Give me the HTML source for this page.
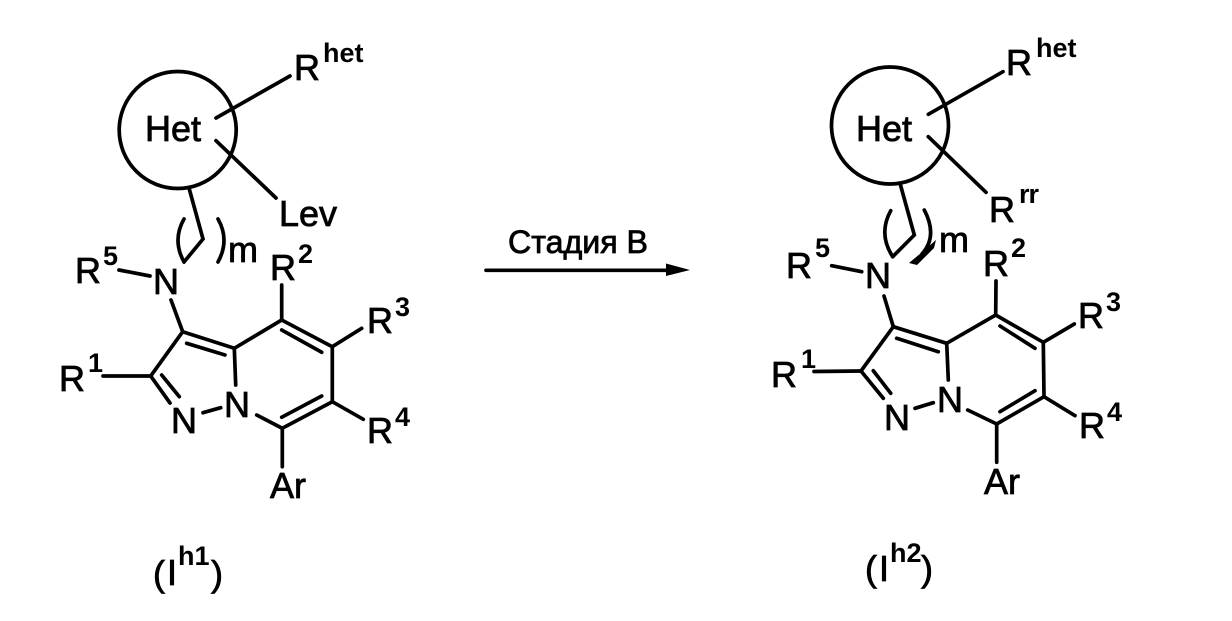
<!DOCTYPE html>
<html><head><meta charset="utf-8"><style>
html,body{margin:0;padding:0;background:#fff;width:1232px;height:621px;overflow:hidden}
svg{display:block}
text{font-family:"Liberation Sans",sans-serif;fill:#000;stroke:#000;stroke-width:.8px}
.b{font-size:36px}
.s{font-size:27px;font-weight:bold;stroke-width:0}
line,path.l,circle{stroke:#000;stroke-width:3.7px;fill:none;stroke-linecap:round}
</style></head><body>
<svg width="1232" height="621" viewBox="0 0 1232 621" xmlns="http://www.w3.org/2000/svg">
<rect width="1232" height="621" fill="#fff"/>
<!-- Left molecule -->
<circle cx="177.7" cy="130" r="58.5"/>
<line x1="216" y1="118" x2="290" y2="76"/>
<line x1="216" y1="140.7" x2="276" y2="198"/>
<path class="l" d="M189 188L203 239L184 262"/>
<path class="l" d="M184 219Q172 240 184 262"/>
<path class="l" d="M218 219Q230 240 218 262"/>
<line x1="119" y1="270" x2="150" y2="276"/>
<line x1="171" y1="300" x2="182.7" y2="331.7"/>
<line x1="281.7" y1="285" x2="281.7" y2="320"/>
<line x1="182.7" y1="331.7" x2="234.3" y2="348.3"/>
<line x1="186.7" y1="343.3" x2="225" y2="355"/>
<line x1="182.7" y1="331.7" x2="150.7" y2="376"/>
<line x1="150.7" y1="376" x2="170" y2="403"/>
<line x1="161.7" y1="375" x2="179.3" y2="396.7"/>
<line x1="203" y1="412.7" x2="220.7" y2="407.7"/>
<line x1="234.3" y1="348.3" x2="235.7" y2="385"/>
<line x1="234.3" y1="348.3" x2="281.7" y2="320"/>
<line x1="281.7" y1="320" x2="332.3" y2="346.7"/>
<line x1="281.7" y1="330" x2="321.7" y2="352.3"/>
<line x1="332.3" y1="346.7" x2="332.3" y2="401.7"/>
<line x1="332.3" y1="401.7" x2="282.3" y2="428.3"/>
<line x1="321.7" y1="396" x2="281.7" y2="417.3"/>
<line x1="256.7" y1="415" x2="282.3" y2="428.3"/>
<line x1="282.3" y1="428.3" x2="282.3" y2="466.7"/>
<line x1="332.3" y1="346.7" x2="361.7" y2="328.3"/>
<line x1="332.3" y1="401.7" x2="363.3" y2="419.3"/>
<line x1="103" y1="376" x2="150.7" y2="376"/>
<text class="b" x="145" y="141">Het</text>
<text class="b" x="294" y="80">R</text><text class="s" x="323" y="62">het</text>
<text class="b" x="279" y="226">Lev</text>
<text class="b" x="228" y="262">m</text>
<text class="b" x="75" y="283">R</text><text class="s" x="103" y="265">5</text>
<text class="b" x="153" y="294">N</text>
<text class="b" x="270" y="280">R</text><text class="s" x="298" y="263">2</text>
<text class="b" x="367" y="333">R</text><text class="s" x="395" y="316">3</text>
<text class="b" x="367" y="443">R</text><text class="s" x="395" y="426">4</text>
<text class="b" x="59" y="391">R</text><text class="s" x="88" y="372">1</text>
<text class="b" x="224" y="417">N</text>
<text class="b" x="171" y="433">N</text>
<text class="b" x="270" y="498">Ar</text>
<text class="b" x="153" y="586">(</text><text class="b" x="167" y="585">I</text><text class="s" x="178" y="565">h1</text><text class="b" x="211" y="586">)</text>
<!-- Arrow -->
<line x1="486" y1="270.3" x2="672" y2="270.3"/>
<polygon points="666,263.5 690,270 666,276" fill="#000"/>
<text x="508" y="253" style="font-size:32px" textLength="140" lengthAdjust="spacingAndGlyphs">Стадия В</text>
<!-- Right molecule -->
<circle cx="890" cy="125.5" r="58.5"/>
<line x1="928.3" y1="114.3" x2="1003" y2="71.7"/>
<line x1="928.3" y1="136.7" x2="986" y2="192.3"/>
<path class="l" d="M900 183.3L914.3 235L892.7 256.7"/>
<path class="l" d="M890.7 210.7Q878 234 892.7 256.7"/>
<path class="l" d="M924.3 210Q938 236 922 254"/>
<path d="M909 263L921 253L936 240L934 248L917 265Z" fill="#000"/>
<line x1="831.7" y1="265.7" x2="861.7" y2="271.7"/>
<line x1="884" y1="296" x2="893.3" y2="326.7"/>
<line x1="996" y1="281" x2="995.7" y2="315"/>
<line x1="893.3" y1="326.7" x2="946.7" y2="343.3"/>
<line x1="896.7" y1="338.3" x2="938.3" y2="351.7"/>
<line x1="893.3" y1="326.7" x2="861" y2="371"/>
<line x1="861" y1="371" x2="883.3" y2="398.3"/>
<line x1="873.3" y1="370.7" x2="890.7" y2="393.3"/>
<line x1="915" y1="408.3" x2="933.3" y2="402.7"/>
<line x1="946.7" y1="343.3" x2="948.3" y2="380"/>
<line x1="946.7" y1="343.3" x2="995.7" y2="315"/>
<line x1="995.7" y1="315" x2="1043.3" y2="342.3"/>
<line x1="1000" y1="326" x2="1035" y2="348.3"/>
<line x1="1043.3" y1="342.3" x2="1044" y2="396.7"/>
<line x1="1044" y1="396.7" x2="996.7" y2="424"/>
<line x1="1035" y1="390.7" x2="1000" y2="411.7"/>
<line x1="967.7" y1="410" x2="996.7" y2="424"/>
<line x1="996.7" y1="424" x2="996.7" y2="462.3"/>
<line x1="1043.3" y1="342.3" x2="1074.3" y2="324"/>
<line x1="1044" y1="396.7" x2="1075" y2="415.7"/>
<line x1="814" y1="371.5" x2="861" y2="371"/>
<text class="b" x="856" y="141">Het</text>
<text class="b" x="1006" y="75">R</text><text class="s" x="1036" y="57">het</text>
<text class="b" x="989" y="222">R</text><text class="s" x="1019" y="203" letter-spacing="-1">rr</text>
<text class="b" x="939" y="252">m</text>
<text class="b" x="786" y="278">R</text><text class="s" x="815" y="257">5</text>
<text class="b" x="865" y="288">N</text>
<text class="b" x="983" y="276">R</text><text class="s" x="1011" y="257">2</text>
<text class="b" x="1078" y="328">R</text><text class="s" x="1106" y="311">3</text>
<text class="b" x="1079" y="438">R</text><text class="s" x="1107" y="421">4</text>
<text class="b" x="771" y="387">R</text><text class="s" x="801" y="368">1</text>
<text class="b" x="937" y="412">N</text>
<text class="b" x="884" y="430">N</text>
<text class="b" x="984" y="494">Ar</text>
<text class="b" x="865" y="581">(</text><text class="b" x="879" y="581">I</text><text class="s" x="890" y="562">h2</text><text class="b" x="921" y="581">)</text>
</svg>
</body></html>
